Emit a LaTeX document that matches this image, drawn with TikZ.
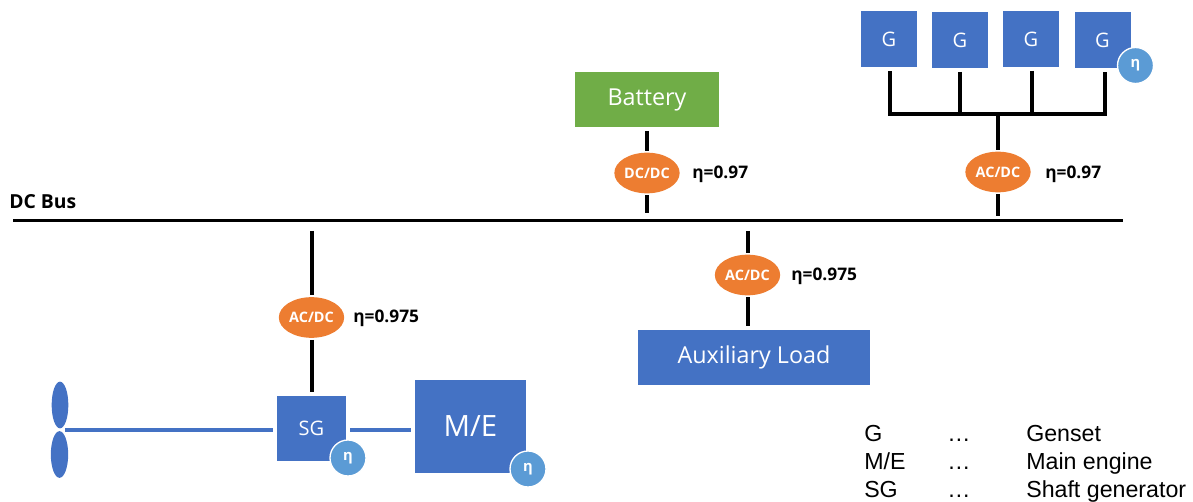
\documentclass[tikz,border=0pt]{standalone}
\usepackage{fontspec}
\setmainfont{Open Sans}
\newfontfamily\legendfont{Liberation Sans}
\usetikzlibrary{shapes.geometric}
\definecolor{boxblue}{RGB}{68,114,196}
\definecolor{battgreen}{RGB}{112,173,71}
\definecolor{convorange}{RGB}{237,125,49}
\definecolor{etablue}{RGB}{91,155,213}
\tikzset{
  unitbox/.style={fill=boxblue,text=white,inner sep=0pt,outer sep=3pt,font=\fontsize{#1}{#1}\selectfont},
  gensetbox/.style={unitbox=15,minimum width=42pt,minimum height=42pt},
  convbox/.style={ellipse,fill=convorange,text=white,inner sep=0pt,outer sep=1.5pt,minimum width=49pt,minimum height=30.5pt,font=\fontsize{10.8}{10.8}\selectfont\bfseries},
  etamark/.style={circle,fill=etablue,draw=white,line width=1pt,text=white,inner sep=0pt,minimum size=27pt,font=\fontsize{11}{11}\selectfont\bfseries},
  effnote/.style={anchor=west,inner sep=0pt,font=\fontsize{13}{13}\selectfont\bfseries},
  legendnote/.style={anchor=base west,inner sep=0pt,font=\legendfont\fontsize{17.4}{17.4}\selectfont},
  blade/.style={ellipse,fill=boxblue,inner sep=0pt,minimum width=12.5pt,minimum height=35pt},
  powerline/.style={line width=3pt},
  busline/.style={line width=2.4pt},
  shaftline/.style={draw=boxblue,line width=3pt}
}
\begin{document}
\begin{tikzpicture}[x=0.75pt,y=0.75pt,yscale=-1,xscale=1]
\useasboundingbox (0,0) rectangle (1193,502);

%Shape: DC bus
\coordinate (busL) at (13,220.5);
\coordinate (busR) at (1123,220.5);
\draw [busline] (busL) -- (busR);
% Text Node
\node (busname) [anchor=west,inner sep=0pt,font=\fontsize{14.5}{14.5}\selectfont\bfseries] at (9,202) {DC Bus};

%Shape: Battery branch
\node (batt) [unitbox=17.5,fill=battgreen,minimum width=108pt,minimum height=41pt] at (647,99.5) {Battery};
\node (dcbatt) [convbox] at (647,173) {DC/DC};
\coordinate (busbatt) at (647,213);
\draw [powerline] (batt) -- (dcbatt);
\draw [powerline] (dcbatt) -- (busbatt);
\node (effbatt) [effnote] at (692,174) {η=0.97};

%Shape: Genset branch
\node (g1) [gensetbox] at (889,39.5) {G};
\node (g2) [gensetbox] at (960,40) {G};
\node (g3) [gensetbox] at (1031,39) {G};
\node (g4) [gensetbox] at (1102.5,40.5) {G};
\node (etag) [etamark] at (1135.5,65.5) {η};
\coordinate (tie1) at (890,114);
\coordinate (tie2) at (960,114);
\coordinate (tie3) at (1032,114);
\coordinate (tie4) at (1104.5,114);
\coordinate (tiemid) at (997.5,114);
\coordinate (busgen) at (997.5,216);
\node (acgen) [convbox] at (998,172) {AC/DC};
\draw [powerline] (g1.south -| tie1) -- (tie1);
\draw [powerline] (g2.south -| tie2) -- (tie2);
\draw [powerline] (g3.south -| tie3) -- (tie3);
\draw [powerline] (g4.south -| tie4) -- (tie4);
\draw [powerline,line cap=rect] (tie1) -- (tie4);
\draw [powerline] (tiemid) -- (acgen.north -| tiemid);
\draw [powerline] (acgen.south -| busgen) -- (busgen);
\node (effgen) [effnote] at (1045,174) {η=0.97};

%Shape: Auxiliary load branch
\coordinate (busaux) at (747.5,231);
\node (acaux) [convbox] at (747.5,275) {AC/DC};
\node (aux) [unitbox=17.5,minimum width=174pt,minimum height=41pt] at (754,357.5) {Auxiliary Load};
\draw [powerline] (busaux) -- (acaux);
\draw [powerline] (acaux) -- (acaux |- aux.north);
\node (effaux) [effnote] at (791,276) {η=0.975};

%Shape: Shaft generator branch
\coordinate (bussg) at (311.5,231);
\node (acsg) [convbox] at (311.5,317.5) {AC/DC};
\node (sg) [unitbox=15,minimum width=52pt,minimum height=48.5pt] at (311.5,428.5) {SG};
\node (me) [unitbox=22,minimum width=83pt,minimum height=70pt] at (470.5,426.5) {M/E};
\node (etasg) [etamark] at (348,458) {η};
\node (etame) [etamark] at (528,469) {η};
\draw [powerline] (bussg) -- (acsg);
\draw [powerline] (acsg) -- (sg);
\node (effsg) [effnote] at (353,318) {η=0.975};

%Shape: Propeller
\node (bladeup) [blade] at (60,405) {};
\node (bladedn) [blade,minimum width=13pt] at (59.5,454.5) {};
\coordinate (hub) at (65,430);
\draw [shaftline] (hub) -- (hub -| sg.west);
\draw [shaftline] (hub -| sg.east) -- (hub -| me.west);

% Text Node
\node (legg) [legendnote] at (864,441.5) {G};
\node (legme) [legendnote] at (864,469.5) {M/E};
\node (legsg) [legendnote] at (864,497.5) {SG};
\node (dotg) [legendnote] at (947,441.5) {…};
\node (dotme) [legendnote] at (947,469.5) {…};
\node (dotsg) [legendnote] at (947,497.5) {…};
\node (txtg) [legendnote] at (1026,441.5) {Genset};
\node (txtme) [legendnote] at (1026,469.5) {Main engine};
\node (txtsg) [legendnote] at (1026,497.5) {Shaft generator};

\end{tikzpicture}
\end{document}
